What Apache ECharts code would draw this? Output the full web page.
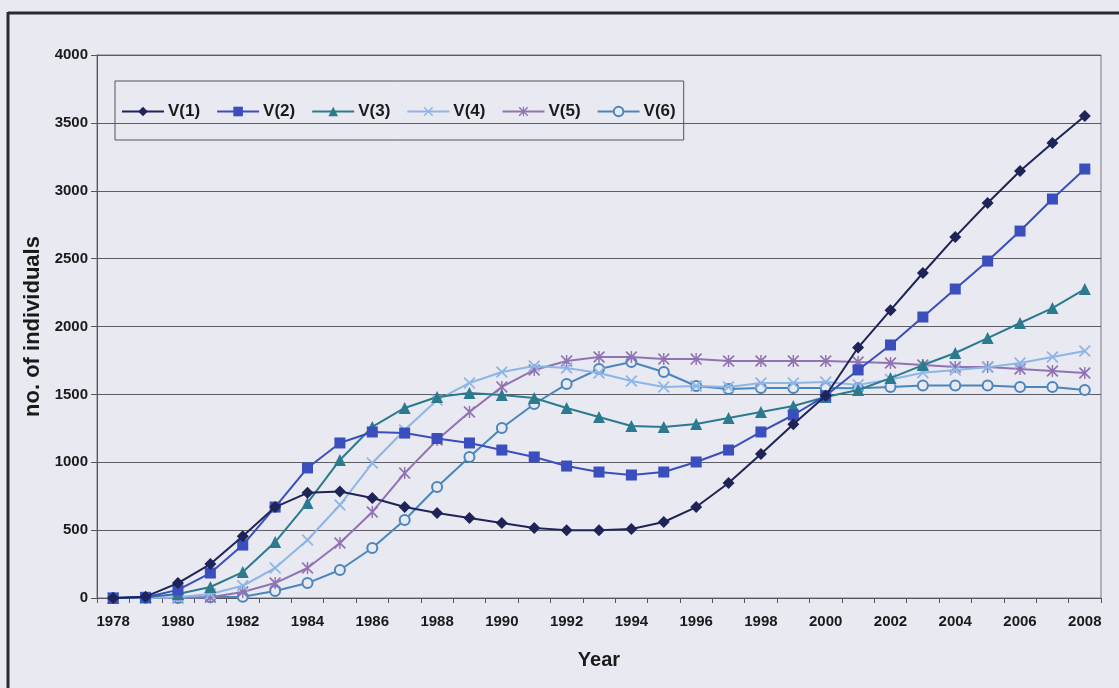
<!DOCTYPE html>
<html>
<head>
<meta charset="utf-8">
<script src="https://cdn.jsdelivr.net/npm/echarts@6/dist/echarts.min.js"></script>
<style>
  html, body { margin: 0; padding: 0; background: #E8E9F1; }
  #chart { width: 1119px; height: 688px; }
</style>
</head>
<body>
<div id="chart"></div>
<script>
// Years on the category axis
const years = [];
for (let y = 1978; y <= 2008; y++) years.push(String(y));

// Number of individuals per year, one array per variant
const v1 = [0, 10, 110, 250, 455, 670, 775, 785, 737, 670, 626, 590, 552, 516, 500, 500, 508, 560, 670, 847, 1060, 1280, 1490, 1845, 2120, 2394, 2660, 2910, 3145, 3352, 3550];
const v2 = [0, 5, 60, 184, 390, 670, 958, 1142, 1223, 1215, 1175, 1142, 1090, 1039, 972, 928, 906, 928, 1002, 1090, 1223, 1348, 1490, 1680, 1864, 2070, 2276, 2482, 2703, 2939, 3160];
const v3 = [0, 5, 30, 81, 191, 412, 700, 1017, 1260, 1400, 1481, 1510, 1495, 1473, 1400, 1333, 1267, 1260, 1282, 1326, 1370, 1414, 1481, 1532, 1620, 1716, 1805, 1915, 2026, 2136, 2276];
const v4 = [0, 0, 5, 30, 90, 221, 427, 685, 994, 1238, 1458, 1584, 1665, 1709, 1694, 1657, 1599, 1555, 1562, 1555, 1584, 1584, 1591, 1570, 1610, 1660, 1680, 1700, 1731, 1775, 1820];
const v5 = [0, 0, 0, 5, 44, 110, 221, 405, 634, 920, 1164, 1370, 1555, 1680, 1746, 1775, 1775, 1760, 1760, 1746, 1746, 1746, 1746, 1738, 1731, 1716, 1702, 1702, 1687, 1672, 1657];
const v6 = [0, 0, 0, 5, 10, 52, 110, 206, 368, 575, 818, 1039, 1252, 1429, 1576, 1687, 1738, 1665, 1562, 1540, 1547, 1547, 1547, 1545, 1554, 1565, 1565, 1565, 1554, 1554, 1532];

const seriesNames = ['V(1)', 'V(2)', 'V(3)', 'V(4)', 'V(5)', 'V(6)'];
const seriesData = [v1, v2, v3, v4, v5, v6];

const pageBg = '#E8E9F1';

// Marker shapes: diamond, square, triangle, cross, asterisk, hollow circle
const crossPath = 'path://M1,0L5,4L9,0L10,1L6,5L10,9L9,10L5,6L1,10L0,9L4,5L0,1Z';
const starPath = 'path://M1,0L5,4L9,0L10,1L6,5L10,9L9,10L5,6L1,10L0,9L4,5L0,1Z M4.4,0L5.6,0L5.6,10L4.4,10Z';
const styles = [
  { color: '#1E2458', symbol: 'diamond', size: 12 },
  { color: '#3A4EBE', symbol: 'rect', size: 11 },
  { color: '#2C7A8E', symbol: 'triangle', size: 12 },
  { color: '#8DB5E6', symbol: crossPath, size: 12 },
  { color: '#9273B2', symbol: starPath, size: 12 },
  { color: '#4A86BE', symbol: 'circle', size: 10, hollow: true }
];

const font = 'Liberation Sans, Arial, sans-serif';

const chart = echarts.init(document.getElementById('chart'));
chart.setOption({
  backgroundColor: pageBg,
  animation: false,
  grid: {
    left: 97, right: 18, top: 55, bottom: 90,
    show: true, borderColor: '#7A7A80', borderWidth: 1, backgroundColor: 'transparent'
  },
  legend: {
    left: 115, top: 81,
    padding: [22, 8, 20, 6],
    itemGap: 16,
    itemWidth: 42, itemHeight: 12,
    borderColor: '#55555A', borderWidth: 1,
    textStyle: { fontFamily: font, fontWeight: 'bold', fontSize: 17, color: '#1A1A1A', padding: [0, 0, 0, -1] },
    data: seriesNames
  },
  xAxis: {
    type: 'category',
    data: years,
    boundaryGap: true,
    name: 'Year',
    nameLocation: 'middle',
    nameGap: 52,
    nameTextStyle: { fontFamily: font, fontWeight: 'bold', fontSize: 20, color: '#1A1A1A' },
    axisLine: { lineStyle: { color: '#55555A', width: 1 } },
    axisTick: { show: true, interval: 0, length: 5, lineStyle: { color: '#55555A' } },
    axisLabel: {
      interval: 1, margin: 16,
      fontFamily: font, fontWeight: 'bold', fontSize: 15, color: '#1A1A1A'
    },
    splitLine: { show: false }
  },
  yAxis: {
    type: 'value',
    min: 0, max: 4000, interval: 500,
    name: 'no. of individuals',
    nameLocation: 'middle',
    nameGap: 45,
    nameTextStyle: { fontFamily: font, fontWeight: 'bold', fontSize: 22, color: '#1A1A1A' },
    axisLine: { show: true, lineStyle: { color: '#55555A', width: 1 } },
    axisTick: { show: true, length: 6, lineStyle: { color: '#55555A' } },
    axisLabel: {
      margin: 9, fontFamily: font, fontWeight: 'bold', fontSize: 15, color: '#1A1A1A',
      formatter: v => String(v)
    },
    splitLine: { show: true, lineStyle: { color: '#5C5C62', width: 1 } }
  },
  graphic: [
    // dark page frame (left and top edges)
    { type: 'line', shape: { x1: 8, y1: 13, x2: 1119, y2: 13 }, style: { stroke: '#2A2A2E', lineWidth: 3 }, silent: true },
    { type: 'line', shape: { x1: 8, y1: 12, x2: 8, y2: 688 }, style: { stroke: '#2A2A2E', lineWidth: 3 }, silent: true }
  ],
  series: seriesData.map((d, i) => ({
    name: seriesNames[i],
    type: 'line',
    data: d,
    symbol: styles[i].symbol,
    symbolSize: styles[i].size,
    showAllSymbol: true,
    lineStyle: { color: styles[i].color, width: 2 },
    itemStyle: {
      color: styles[i].hollow ? pageBg : styles[i].color,
      borderColor: styles[i].color,
      borderWidth: styles[i].hollow ? 2 : 0
    },
    z: 10 - i
  }))
});
</script>
</body>
</html>
